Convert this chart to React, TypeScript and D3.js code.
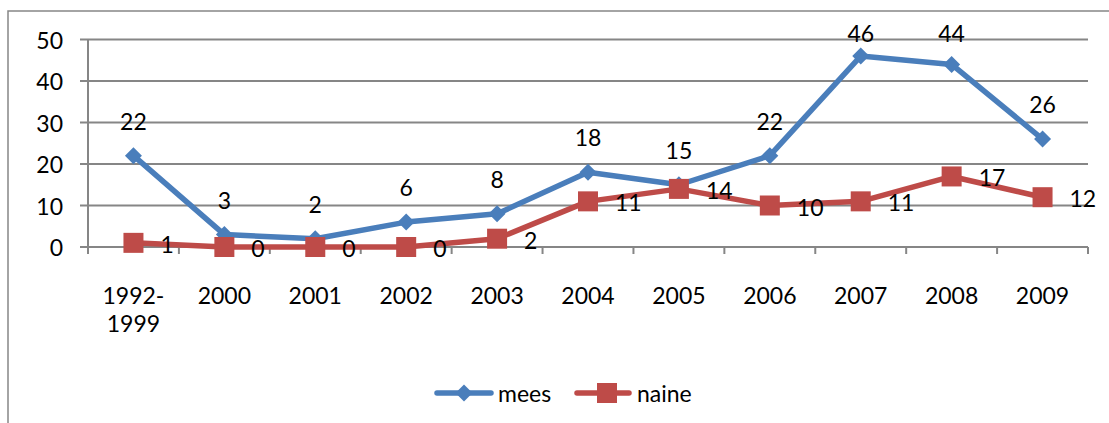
import React from "react";
import * as d3 from "d3";

const categories = ["1992-\n1999", "2000", "2001", "2002", "2003", "2004", "2005", "2006", "2007", "2008", "2009"];
const mees = [22, 3, 2, 6, 8, 18, 15, 22, 46, 44, 26];
const naine = [1, 0, 0, 0, 2, 11, 14, 10, 11, 17, 12];
const yTicks = [0, 10, 20, 30, 40, 50];

const W = 1109, H = 423;
const left = 88, right = 1088, top = 39.5, bottom = 247;
const FONT = "Lato, 'Open Sans', sans-serif";
const FS = 23;
const BLUE = "#4A7EBB", RED = "#BE4B48", GRID = "#868686";

export default function App() {
  const x = d3.scaleBand<number>().domain(d3.range(categories.length)).range([left, right]);
  const cx = (i: number) => (x(i) as number) + x.bandwidth() / 2;
  const y = d3.scaleLinear().domain([0, 50]).range([bottom, top]);
  const line = d3.line<number>().x((_, i) => cx(i)).y((d) => y(d));
  const diamond = (px: number, py: number, r = 8.5) => `M${px},${py - r}L${px + r},${py}L${px},${py + r}L${px - r},${py}Z`;

  return (
    <svg width={W} height={H} style={{ position: "absolute", left: 0, top: 0, background: "#fff" }} fontFamily={FONT}>
      <rect x={8} y={11} width={W + 20} height={H + 20} fill="#fff" stroke={GRID} strokeWidth={1.5} />
      {yTicks.map((t) => (
        <g key={t}>
          <line x1={80} x2={right} y1={y(t)} y2={y(t)} stroke={GRID} strokeWidth={2} />
          <text x={63} y={y(t)} textAnchor="end" dominantBaseline="central" fontSize={FS} fill="#000">{t}</text>
        </g>
      ))}
      <line x1={left} x2={left} y1={top} y2={bottom + 7} stroke={GRID} strokeWidth={2} />
      {d3.range(categories.length + 1).map((i) => {
        const px = left + i * x.bandwidth();
        return <line key={i} x1={px} x2={px} y1={bottom} y2={bottom + 7} stroke={GRID} strokeWidth={2} />;
      })}
      {categories.map((c, i) => (
        <text key={c} x={cx(i)} y={295} textAnchor="middle" fontSize={FS} fill="#000">
          {c.split("\n").map((s, j) => (
            <tspan key={j} x={cx(i)} dy={j === 0 ? 0 : 28} dominantBaseline="central">{s}</tspan>
          ))}
        </text>
      ))}
      <path d={line(mees) as string} fill="none" stroke={BLUE} strokeWidth={5.5} strokeLinejoin="round" />
      <path d={line(naine) as string} fill="none" stroke={RED} strokeWidth={5.5} strokeLinejoin="round" />
      {mees.map((v, i) => (
        <path key={i} d={diamond(cx(i), y(v))} fill={BLUE} />
      ))}
      {naine.map((v, i) => (
        <rect key={i} x={cx(i) - 10} y={y(v) - 10} width={20} height={20} fill={RED} />
      ))}
      {mees.map((v, i) => (
        <text key={i} x={cx(i)} y={Math.max(33, y(v) - 35)} textAnchor="middle" dominantBaseline="central" fontSize={FS} fill="#000">{v}</text>
      ))}
      {naine.map((v, i) => (
        <text key={i} x={cx(i) + 27} y={y(v) + 1} textAnchor="start" dominantBaseline="central" fontSize={FS} fill="#000">{v}</text>
      ))}
      <g>
        <line x1={437} x2={491} y1={393} y2={393} stroke={BLUE} strokeWidth={5.5} strokeLinecap="round" />
        <path d={diamond(464, 393)} fill={BLUE} />
        <text x={498} y={393} dominantBaseline="central" fontSize={FS} fill="#000">mees</text>
        <line x1={577} x2={629} y1={393} y2={393} stroke={RED} strokeWidth={5.5} strokeLinecap="round" />
        <rect x={597} y={383} width={20} height={20} fill={RED} />
        <text x={637} y={393} dominantBaseline="central" fontSize={FS} fill="#000">naine</text>
      </g>
    </svg>
  );
}
